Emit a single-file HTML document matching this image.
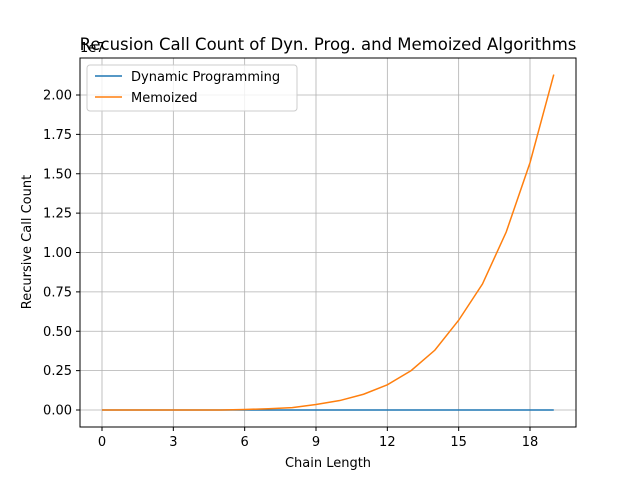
<!DOCTYPE html>
<html><head><meta charset="utf-8"><style>
body{margin:0;background:#fff}
svg{font-family:"DejaVu Sans","Liberation Sans",sans-serif}
</style></head><body>
<svg id="c" width="640" height="480" xmlns="http://www.w3.org/2000/svg">
<rect width="640" height="480" fill="#fff"/>
<g id="grid"></g>
<g id="series"></g>
<rect x="80" y="58" width="496" height="369" fill="none" stroke="#000" stroke-width="1"/>
<g id="ticks" font-size="13"></g>
<text x="80" y="52" font-size="13">1e7</text>
<text x="328" y="50" text-anchor="middle" font-size="16.5">Recusion Call Count of Dyn. Prog. and Memoized Algorithms</text>
<text x="328" y="467" text-anchor="middle" font-size="13">Chain Length</text>
<text transform="translate(31,242) rotate(-90)" text-anchor="middle" font-size="13">Recursive Call Count</text>
<g>
<rect x="87" y="65" width="210" height="46" rx="3" fill="#fff" fill-opacity="0.8" stroke="#ccc"/>
<g><line x1="95" y1="76" x2="122" y2="76" stroke="#1f77b4" stroke-width="1.5"/><text x="131" y="81" font-size="13">Dynamic Programming</text></g>
<g><line x1="95" y1="97" x2="122" y2="97" stroke="#ff7f0e" stroke-width="1.5"/><text x="131" y="102" font-size="13">Memoized</text></g>
</g>
</svg>
<script>
const chainLengths=[0,1,2,3,4,5,6,7,8,9,10,11,12,13,14,15,16,17,18,19];
const dynamicValues=[0,1,4,10,20,35,56,84,120,165,220,286,364,455,560,680,816,969,1140,1330];
const memoizedValues=[0,2,10,60,300,1500,30000,80000,150000,350000,600000,1000000,1600000,2500000,3800000,5700000,8000000,11300000,15700000,21300000];
const xTicks=[0,3,6,9,12,15,18];
const yTicks=[0,0.25,0.5,0.75,1,1.25,1.5,1.75,2];
const yTickLabels=["0.00","0.25","0.50","0.75","1.00","1.25","1.50","1.75","2.00"];
const xs=v=>102+v*(428/18);
const ys=v=>410-v*157.5/1e7;
const NS="http://www.w3.org/2000/svg";
const grid=document.getElementById('grid'),ticks=document.getElementById('ticks'),ser=document.getElementById('series');
function mk(tag,attrs,parent){const e=document.createElementNS(NS,tag);for(const k in attrs)e.setAttribute(k,attrs[k]);parent.appendChild(e);return e;}
xTicks.forEach(t=>{const x=xs(t);
 const g=mk('line',{x1:x,x2:x,y1:58,y2:427,stroke:'#b0b0b0','stroke-width':0.8},grid);
 
 
 mk('line',{x1:x,x2:x,y1:427,y2:431,stroke:'#000'},ticks);
 const l=mk('text',{x:x,y:446,'text-anchor':'middle'},ticks);l.textContent=t;
 
 
});
yTicks.forEach((t,i)=>{const y=ys(t*1e7);
 const g=mk('line',{x1:80,x2:576,y1:y,y2:y,stroke:'#b0b0b0','stroke-width':0.8},grid);
 
 
 mk('line',{x1:76,x2:80,y1:y,y2:y,stroke:'#000'},ticks);
 const l=mk('text',{x:72,y:y+4.5,'text-anchor':'end'},ticks);l.textContent=yTickLabels[i];
 
 
});
function line(vals,color,name){const p=mk('polyline',{points:chainLengths.map((c,i)=>xs(c)+','+ys(vals[i])).join(' '),fill:'none',stroke:color,'stroke-width':1.5},ser);
 
 }
line(dynamicValues,'#1f77b4','dynamic-programming-line');
line(memoizedValues,'#ff7f0e','memoized-line');
</script>
</body></html>
